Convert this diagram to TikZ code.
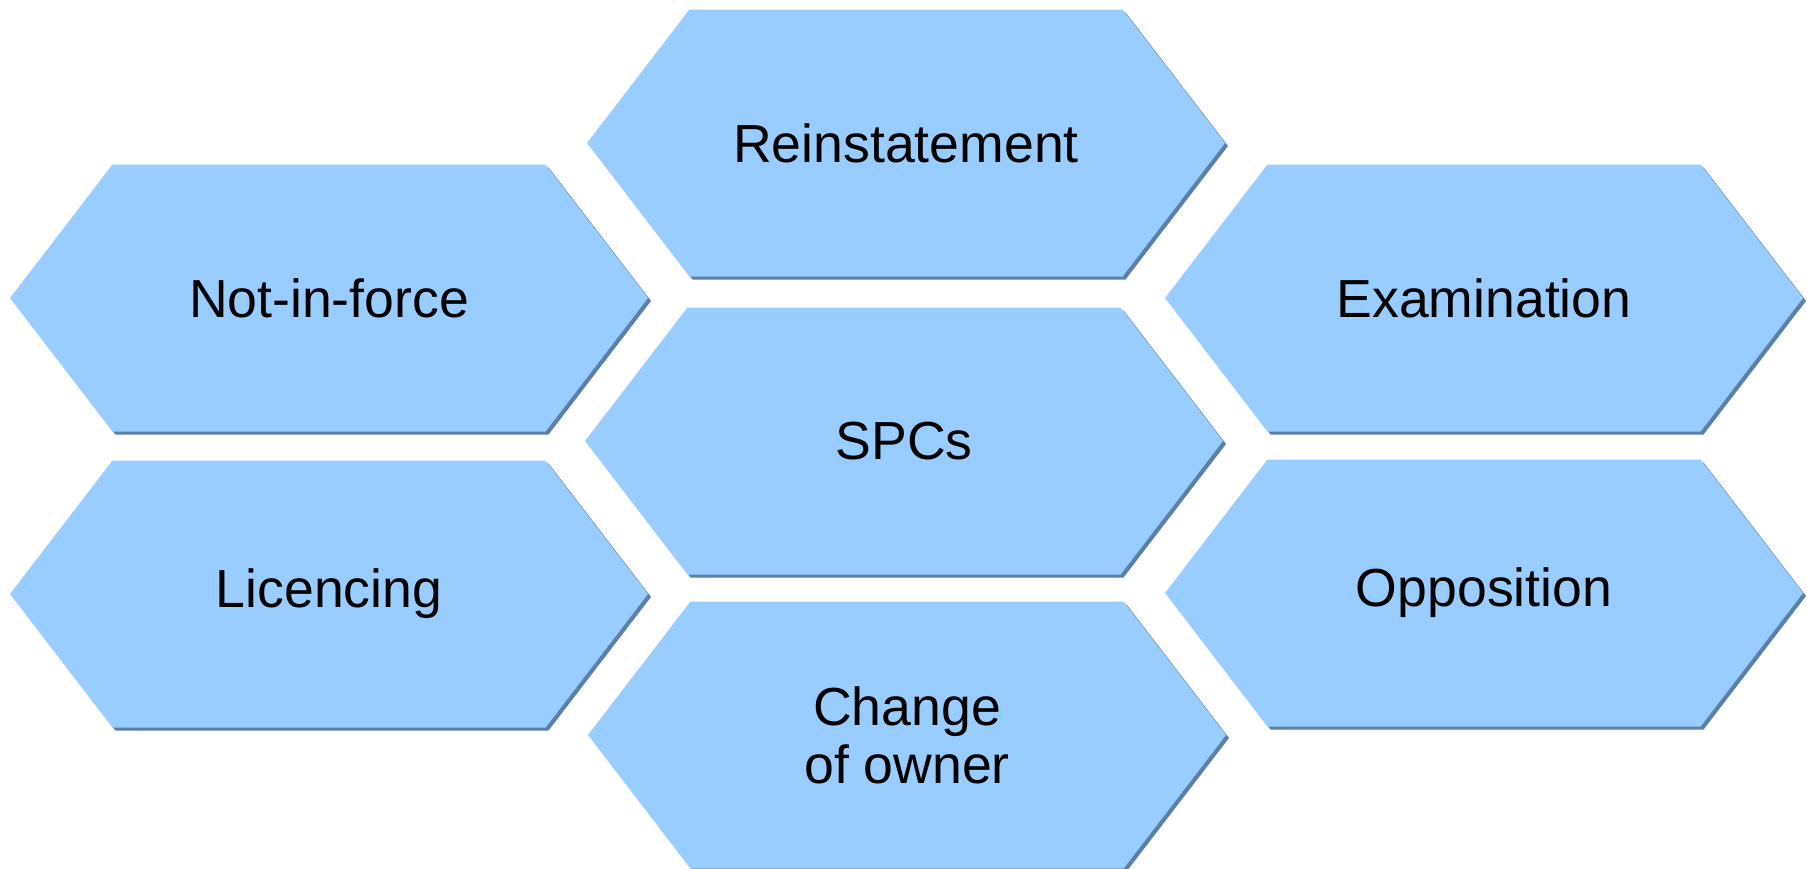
\documentclass[tikz,border=0pt]{standalone}
\usepackage{fontspec}
\setmainfont{Liberation Sans}
\usetikzlibrary{shapes.symbols,shadows}
\definecolor{hexfill}{HTML}{99CCFF}
\definecolor{hexshadow}{HTML}{5B7FA6}

\begin{document}
\begin{tikzpicture}[x=0.5pt, y=-0.5pt,
		hexbox/.style={signal, signal to=west and east, signal pointer angle=105,
			minimum width=319pt, minimum height=133.5pt, inner sep=0pt,
			fill=hexfill, align=center, font=\fontsize{26.8}{29}\selectfont,
			drop shadow={shadow xshift=1.5pt, shadow yshift=-1.5pt, fill=hexshadow, opacity=1}}]
		\useasboundingbox (0, 0) rectangle (1807, 868);

		\draw (906, 143) 	node[hexbox] (reinst) 		{Reinstatement};
		\draw (329, 298) 	node[hexbox] (notinforce) 	{Not-in-force};
		\draw (1484, 298) 	node[hexbox] (exam) 		{Examination};
		\draw (904, 441) 	node[hexbox] (spcs) 		{SPCs};
		\draw (329, 594) 	node[hexbox] (licencing) 	{Licencing};
		\draw (1484, 593) 	node[hexbox] (oppos) 		{Opposition};
		\draw (907, 735) 	node[hexbox] (owner) 		{Change\\of owner};
	\end{tikzpicture}
\end{document}
